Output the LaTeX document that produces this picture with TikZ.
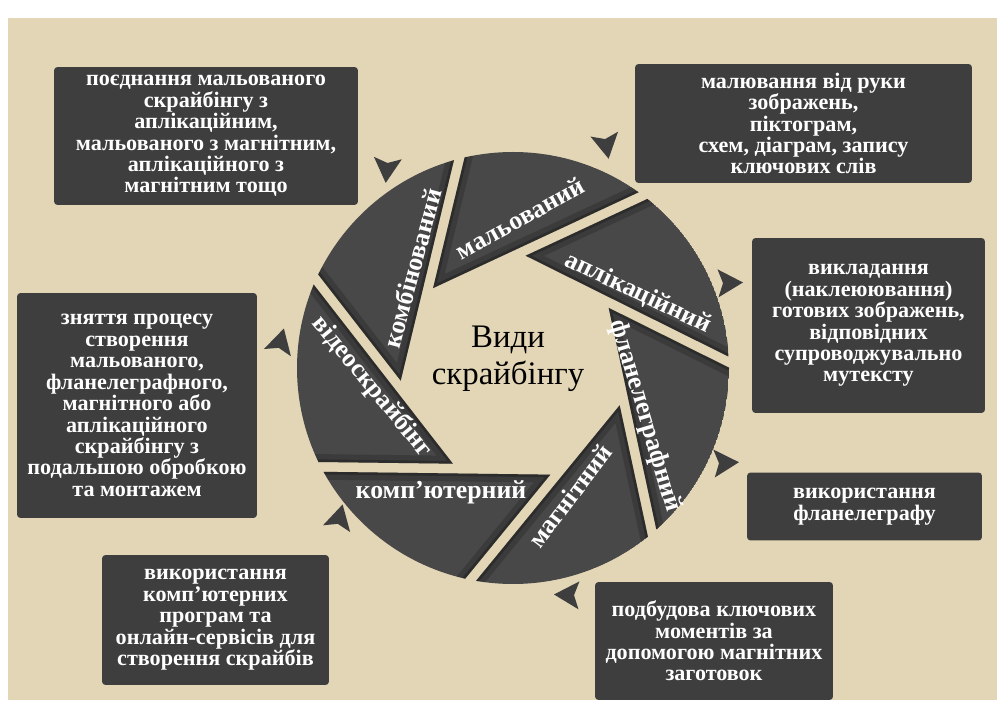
\documentclass[tikz,border=0pt]{standalone}
\usepackage{fontspec}
\setmainfont{Liberation Serif}

\definecolor{paper}{RGB}{227,214,182}
\definecolor{boxgray}{RGB}{62,62,62}
\definecolor{bladegray}{RGB}{72,72,72}

% small arrow-like triangle around the aperture
\newcommand{\decotri}[3]{%
  \fill[boxgray,shift={(#1,#2)},rotate=#3] (15,0) -- (-10,-14) -- (-5,0) -- (-10,14) -- cycle;}

\tikzset{
  descbox/.style={fill=boxgray, rounded corners=2pt, text=white, align=center,
    font=\bfseries\fontsize{12.6}{12.2}\selectfont, inner sep=0pt},
  bladetext/.style={text=white, font=\bfseries\fontsize{14.7}{15}\selectfont, inner sep=0pt},
}

\begin{document}
\begin{tikzpicture}[x=0.02cm, y=0.02cm]
    \useasboundingbox (0,0) rectangle (997,700);
    \fill[white] (0,0) rectangle (997,700);
    \fill[paper] (8,0) rectangle (997,682);

    % blades of the aperture
    \foreach \k in {0,...,6} {
        \pgfmathsetmacro{\tipang}{135-51.4286*\k}
        \pgfmathsetmacro{\edgeang}{\tipang-110}
        \begin{scope}
            \path (513,332) ++(\tipang:113) coordinate (tip\k);
            \clip (513,332) circle (216);
            \clip (tip\k) -- +(\edgeang:500) -- +(\edgeang+51.43:500) -- cycle;
            \fill[bladegray] (513,332) circle (216);
            \draw[black, opacity=.18, line width=9pt] (tip\k) +(\edgeang:500) -- (tip\k) -- +(\edgeang+51.43:500);
            \draw[black, opacity=.25, line width=3pt] (tip\k) +(\edgeang:500) -- (tip\k) -- +(\edgeang+51.43:500);
        \end{scope}
    }

    \node[bladetext, rotate=75] (komb) at (412,432) {комбінований};
    \node[bladetext, rotate=29] (malo) at (520,482) {мальований};
    \node[bladetext, rotate=-25.5] (aplik) at (638,407) {аплікаційний};
    \node[bladetext, rotate=-73.5] (flan) at (645,284) {фланелеграфний};
    \node[bladetext, rotate=52.7] (magn) at (570,204) {магнітний};
    \node[bladetext] (komp) at (441,208) {комп'ютерний};
    \node[bladetext, rotate=-50.6] (video) at (372,313) {відеоскрайбінг};

    \node[align=center, font=\fontsize{18.7}{21}\selectfont, inner sep=0pt] (title) at (508,341) {Види\\скрайбінгу};

    % descriptions
    \node[descbox, minimum width=6.08cm, minimum height=2.76cm] (kombdesc) at (206,564)
        {поєднання мальованого\\скрайбінгу з\\аплікаційним,\\мальованого з магнітним,\\аплікаційного з\\магнітним тощо};
    \node[descbox, minimum width=6.74cm, minimum height=2.38cm] (malodesc) at (803.5,576.5)
        {малювання від руки\\зображень,\\піктограм,\\схем, діаграм, запису\\ключових слів};
    \node[descbox, minimum width=4.66cm, minimum height=3.5cm] (aplikdesc) at (868.5,374.5)
        {викладання\\(наклеюювання)\\готових зображень,\\відповідних\\супроводжувально\\мутексту};
    \node[descbox, minimum width=4.7cm, minimum height=1.36cm] (flandesc) at (864.5,193.5)
        {використання\\фланелеграфу};
    \node[descbox, minimum width=4.76cm, minimum height=2.36cm] (magndesc) at (714,59)
        {подбудова ключових\\моментів за\\допомогою магнітних\\заготовок};
    \node[descbox, minimum width=4.54cm, minimum height=2.6cm] (kompdesc) at (215.5,80)
        {використання\\комп'ютерних\\програм та\\онлайн-сервісів для\\створення скрайбів};
    \node[descbox, minimum width=4.8cm, minimum height=4.5cm] (videodesc) at (137,294.5)
        {зняття процесу\\створення\\мальованого,\\фланелеграфного,\\магнітного або\\аплікаційного\\скрайбінгу з\\подальшою обробкою\\та монтажем};

    \decotri{387}{532}{-95}
    \decotri{606}{556}{-80}
    \decotri{728}{417}{2}
    \decotri{724}{237}{3}
    \decotri{569}{105}{178}
    \decotri{339}{181}{76}
    \decotri{280}{357}{75}
\end{tikzpicture}
\end{document}
